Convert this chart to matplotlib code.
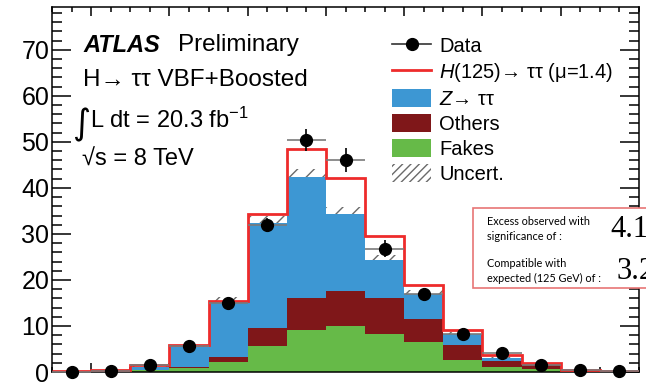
import numpy as np
import matplotlib
matplotlib.use("Agg")
import matplotlib.pyplot as plt
from matplotlib.patches import Patch, Rectangle
from matplotlib.lines import Line2D
from matplotlib.ticker import MultipleLocator, FixedLocator

plt.rcParams['font.family'] = ['Liberation Sans', 'DejaVu Sans']
plt.rcParams['mathtext.fontset'] = 'custom'
plt.rcParams['mathtext.rm'] = 'Liberation Sans'
plt.rcParams['mathtext.it'] = 'Liberation Sans:italic'
plt.rcParams['mathtext.bf'] = 'Liberation Sans:bold'
plt.rcParams['hatch.linewidth'] = 1.0

# ---- data (15 bins) ----
bin_edges = np.arange(0, 16)
fakes = np.array([0.0, 0.0, 0.35, 0.95, 2.2, 5.7, 9.1, 10.1, 8.3, 6.5, 2.7, 1.1, 0.7, 0.2, 0.1])
others = np.array([0.0, 0.0, 0.0, 0.1, 1.1, 3.9, 6.9, 7.5, 7.7, 5.1, 3.1, 1.3, 1.0, 0.1, 0.02])
ztautau = np.array([0.1, 0.15, 0.75, 4.35, 11.9, 22.7, 26.4, 16.7, 8.3, 5.4, 2.4, 0.6, 0.1, 0.05, 0.03])
signal = np.array([0.1, 0.2, 0.5, 0.4, 0.2, 2.0, 6.0, 7.9, 5.3, 1.8, 0.9, 0.6, 0.2, 0.05, 0.05])
bkg_unc = np.array([0.05, 0.05, 0.2, 0.5, 1.0, 1.6, 1.8, 1.6, 1.2, 0.8, 0.5, 0.3, 0.2, 0.1, 0.05])
data = np.array([0.0, 0.3, 1.6, 5.65, 15.0, 32.0, 50.4, 46.0, 26.8, 16.9, 8.2, 4.2, 1.6, 0.4, 0.15])
data_err = np.array([0.0, 0.0, 0.5, 0.8, 1.0, 1.5, 2.4, 2.6, 1.8, 1.2, 1.0, 0.8, 0.5, 0.3, 0.2])

legend_labels = ["Data", "$\\mathit{H}$(125)\u2192 \u03c4\u03c4 (\u03bc=1.4)", "$\\mathit{Z}$\u2192 \u03c4\u03c4",
                 "Others", "Fakes", "Uncert."]
yticks = [0, 10, 20, 30, 40, 50, 60, 70]

c_blue = '#3d97d3'
c_brown = '#7f1719'
c_green = '#66ba48'
c_red = '#ee2b2b'

W, H = 646, 382
fig = plt.figure(figsize=(W / 100, H / 100), dpi=100)
ax = fig.add_axes([52 / W, 1 - 372 / H, (639 - 52) / W, (372 - 7) / H])

lvl1 = fakes
lvl2 = lvl1 + others
lvl3 = lvl2 + ztautau
total = lvl3 + signal
centers = 0.5 * (bin_edges[:-1] + bin_edges[1:])

ax.stairs(lvl3 + bkg_unc, bin_edges, baseline=lvl3 - bkg_unc, fill=True,
          facecolor='none', edgecolor='#6a6a6a', hatch='//', lw=0, zorder=1.5)
ax.stairs(lvl1, bin_edges, baseline=0, fill=True, color=c_green, zorder=2)
ax.stairs(lvl2, bin_edges, baseline=lvl1, fill=True, color=c_brown, zorder=2)
ax.stairs(lvl3, bin_edges, baseline=lvl2, fill=True, color=c_blue, zorder=2)
ax.stairs(total, bin_edges, baseline=None, fill=False, color=c_red, lw=2.0, zorder=4)

ax.errorbar(centers, data, xerr=0.5, fmt='none', ecolor='#7a7a7a', elinewidth=1.2,
            capsize=0, zorder=5, clip_on=False)
ax.errorbar(centers, data, yerr=data_err, fmt='o', color='black', ms=8.5,
            elinewidth=1.2, capsize=0, zorder=6, clip_on=False)

ax.set_xlim(0, 15)
ax.set_ylim(0, 79.3)
ax.xaxis.set_major_locator(FixedLocator(np.arange(1, 15, 2)))
ax.xaxis.set_minor_locator(MultipleLocator(0.5))
ax.set_yticks(yticks)
ax.yaxis.set_minor_locator(MultipleLocator(2))
ax.tick_params(axis='x', which='both', direction='in', top=True, bottom=True,
               labelbottom=False, width=1.1)
ax.tick_params(axis='x', which='major', length=6.5)
ax.tick_params(axis='x', which='minor', length=3.6)
ax.tick_params(axis='y', which='both', direction='in', left=True, right=True, width=1.1)
ax.tick_params(axis='y', which='major', length=14, labelsize=18, pad=2)
ax.tick_params(axis='y', which='minor', length=7)
for s in ax.spines.values():
    s.set_linewidth(1.1)

# legend
handles = [
    Line2D([], [], color='#333333', lw=1.2, marker='o', ms=8.5, mfc='black', mec='black'),
    Line2D([], [], color=c_red, lw=2.0),
    Patch(facecolor=c_blue, edgecolor='none'),
    Patch(facecolor=c_brown, edgecolor='none'),
    Patch(facecolor=c_green, edgecolor='none'),
    Patch(facecolor='white', edgecolor='#6a6a6a', hatch='////', lw=0),
]
ax.legend(handles, legend_labels, loc='upper left', bbox_to_anchor=(392 / W, 1 - 36 / H),
          bbox_transform=fig.transFigure, frameon=False, fontsize=14.5, borderpad=0,
          borderaxespad=0, handlelength=1.95, handleheight=1.0, handletextpad=0.4,
          labelspacing=0.25)

def px(x, y):
    return x / W, 1 - y / H

fig.text(*px(83, 51.5), "ATLAS", fontsize=17, fontweight='bold', fontstyle='italic', va='baseline')
fig.text(*px(178, 51.5), "Preliminary", fontsize=17.5, va='baseline')
fig.text(*px(83, 86), "H\u2192 \u03c4\u03c4 VBF+Boosted", fontsize=17.5, va='baseline')
fig.text(*px(72, 134), "\u222b", fontsize=25, va='baseline', family=['DejaVu Sans'])
fig.text(*px(90, 128), "L dt = 20.3 fb$^{\\mathregular{-1}}$", fontsize=17, va='baseline')
fig.text(*px(82, 166), "\u221as = 8 TeV", fontsize=17, va='baseline')

# significance box
rect = Rectangle(px(473, 288), (700 - 473) / W, (288 - 208) / H, transform=fig.transFigure,
                 facecolor='white', edgecolor='#e87575', lw=1.2, zorder=5)
fig.add_artist(rect)
fig.text(*px(487, 229), "Excess observed with\nsignificance of :", fontsize=7.8,
         family=['Lato', 'DejaVu Sans'], va='center', linespacing=1.4, zorder=6)
fig.text(*px(487, 271), "Compatible with\nexpected (125 GeV) of :", fontsize=7.8,
         family=['Lato', 'DejaVu Sans'], va='center', linespacing=1.4, zorder=6)
fig.text(*px(610, 237), "4.1", fontsize=22, family=['Liberation Serif'], va='baseline', zorder=6)
fig.text(*px(616, 279), "3.2", fontsize=22, family=['Liberation Serif'], va='baseline', zorder=6)

fig.savefig("out.png", dpi=100)
